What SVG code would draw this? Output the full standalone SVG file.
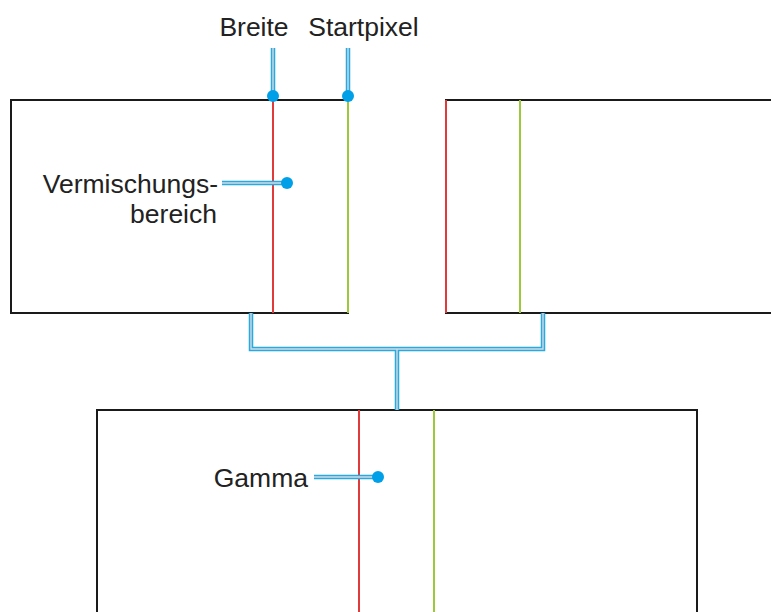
<svg xmlns="http://www.w3.org/2000/svg" width="771" height="612" viewBox="0 0 771 612">
<style>
.frame{fill:none;stroke:#1a1a1a;stroke-width:2}
.red{stroke:#e03a3a;stroke-width:2;fill:none}
.green{stroke:#9cc93c;stroke-width:2;fill:none}
.outer{fill:none;stroke:#2aa8e0;stroke-width:4.5}
.inner{fill:none;stroke:#cfdde6;stroke-width:1.4}
.dot{fill:#00a0e9}
.lbl{font-family:"Liberation Sans",Arial,sans-serif;font-size:26.5px;fill:#222}
</style>
<rect width="771" height="612" fill="#ffffff"/>
<g id="box-left">
<polyline class="frame" points="348,100 11,100 11,313 349,313"/>
<line class="red" x1="273" y1="100" x2="273" y2="313"/>
<line class="green" x1="348" y1="100" x2="348" y2="313"/>
</g>
<g id="box-right">
<polyline class="frame" points="771,100 446,100 446,313 771,313"/>
<line class="red" x1="446" y1="100" x2="446" y2="313"/>
<line class="green" x1="520" y1="100" x2="520" y2="313"/>
</g>
<g id="box-bottom">
<polyline class="frame" points="97,612 97,410 697,410 697,612"/>
<line class="red" x1="359" y1="410" x2="359" y2="612"/>
<line class="green" x1="434" y1="410" x2="434" y2="612"/>
</g>
<g id="connectors">
<path class="outer" d="M273,48 V96 M348,48 V96 M222,183 H287 M314,477 H378 M251,313 V349 H543 V313 M397,349 V410"/>
<path class="inner" d="M273,48 V96 M348,48 V96 M222,183 H287 M314,477 H378 M251,313 V349 H543 V313 M397,349 V410"/>
<circle class="dot" cx="273" cy="96" r="6"/>
<circle class="dot" cx="348" cy="96" r="6"/>
<circle class="dot" cx="287" cy="183" r="6"/>
<circle class="dot" cx="378" cy="477" r="6"/>
</g>
<g id="labels">
<text class="lbl" x="254" y="36" text-anchor="middle">Breite</text>
<text class="lbl" x="363.5" y="36" text-anchor="middle">Startpixel</text>
<text class="lbl" x="218" y="193" text-anchor="end">Vermischungs-</text>
<text class="lbl" x="217" y="223" text-anchor="end">bereich</text>
<text class="lbl" x="308" y="487" text-anchor="end">Gamma</text>
</g>
</svg>
